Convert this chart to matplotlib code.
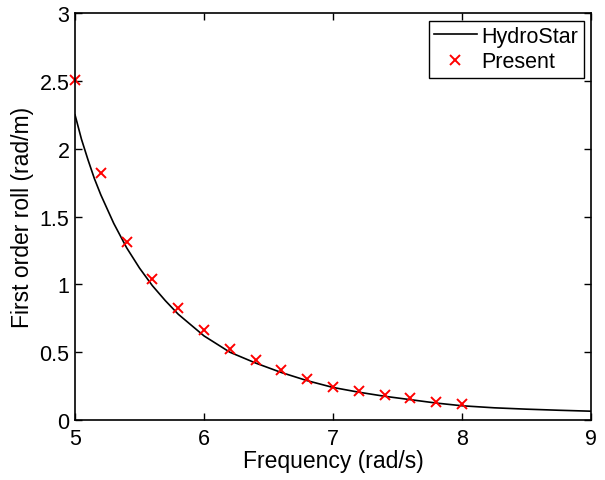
import matplotlib
matplotlib.use("Agg")
import matplotlib.pyplot as plt

plt.rcParams['font.family'] = ['Liberation Sans', 'DejaVu Sans']

# HydroStar curve
freq_hs = [5.0, 5.05, 5.1, 5.15, 5.2, 5.3, 5.4, 5.5, 5.6, 5.7, 5.8, 5.9, 6.0,
           6.2, 6.4, 6.6, 6.8, 7.0, 7.2, 7.4, 7.6, 7.8, 8.0, 8.25, 8.5, 8.75, 9.0]
roll_hs = [2.25, 2.07, 1.92, 1.78, 1.66, 1.45, 1.27, 1.12, 0.99, 0.88, 0.78, 0.70, 0.62,
           0.50, 0.42, 0.35, 0.29, 0.24, 0.205, 0.175, 0.15, 0.125, 0.105, 0.09, 0.08, 0.072, 0.065]

# Present results
freq_p = [5.0, 5.2, 5.4, 5.6, 5.8, 6.0, 6.2, 6.4, 6.6, 6.8, 7.0, 7.2, 7.4, 7.6, 7.8, 8.0]
roll_p = [2.51, 1.82, 1.31, 1.04, 0.825, 0.66, 0.52, 0.44, 0.37, 0.30, 0.245, 0.215,
          0.185, 0.16, 0.135, 0.12]

fig = plt.figure(figsize=(6.05, 4.81), dpi=100)
ax = fig.add_axes([0.124, 0.1247, 0.853, 0.846])

ax.plot(freq_hs, roll_hs, color='black', lw=1.2, label='HydroStar')
ax.plot(freq_p, roll_p, 'x', color='red', ms=6.5, mew=1.4, label='Present', clip_on=False)

ax.set_xlim(5, 9)
ax.set_ylim(0, 3)
ax.set_xticks([5, 6, 7, 8, 9])
ax.set_yticks([0, 0.5, 1, 1.5, 2, 2.5, 3])
ax.set_yticklabels(['0', '0.5', '1', '1.5', '2', '2.5', '3'])
ax.tick_params(direction='in', top=True, right=True, labelsize=15.5, length=5, width=1)
ax.tick_params(axis='x', pad=6)
ax.tick_params(axis='y', pad=4)
for s in ax.spines.values():
    s.set_linewidth(1.2)

ax.set_xlabel('Frequency (rad/s)', fontsize=16.5, labelpad=0)
ax.set_ylabel('First order roll (rad/m)', fontsize=16.5, labelpad=4)

leg = ax.legend(loc='upper right', fontsize=15.5, fancybox=False, framealpha=1,
                edgecolor='black', borderaxespad=0.35, handlelength=2.0,
                handletextpad=0.2, borderpad=0.25, labelspacing=0.2)
leg.get_frame().set_linewidth(1)

fig.savefig('out.png', dpi=100)
